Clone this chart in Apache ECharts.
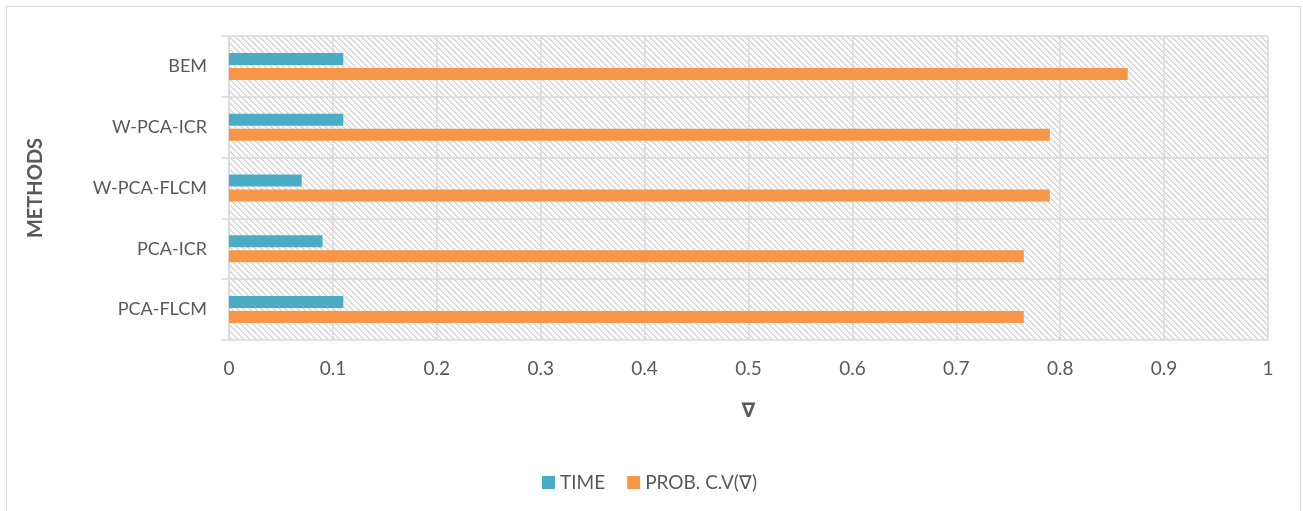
<!DOCTYPE html>
<html>
<head>
<meta charset="utf-8">
<script src="https://cdn.jsdelivr.net/npm/echarts@6/dist/echarts.min.js"></script>
<style>
  html, body { margin: 0; padding: 0; background: #fff; }
  #frame { position: absolute; left: 6px; top: 6px; width: 1295px; height: 510px; border: 1.5px solid #d9d9d9; border-bottom: none; box-sizing: border-box; }
  #chart { position: absolute; left: 0; top: 0; width: 1303px; height: 511px; }
</style>
</head>
<body>
<div id="frame"></div>
<div id="chart"></div>
<script>
// Methods, listed top to bottom
const methods = ['BEM', 'W-PCA-ICR', 'W-PCA-FLCM', 'PCA-ICR', 'PCA-FLCM'];
const timeValues = [0.11, 0.11, 0.07, 0.09, 0.11];
const probValues = [0.865, 0.79, 0.79, 0.765, 0.765];
const seriesNames = ['TIME', 'PROB. C.V(\u2207)'];
const xTicks = { min: 0, max: 1, interval: 0.1 };

// Dotted downward-diagonal hatch used as the plot background
function hatchTile() {
  const n = 6;
  const c = document.createElement('canvas');
  c.width = n; c.height = n;
  const ctx = c.getContext('2d');
  ctx.fillStyle = '#ffffff';
  ctx.fillRect(0, 0, n, n);
  for (let y = 0; y < n; y++) {
    for (let x = 0; x < n; x++) {
      const d = ((x - y) % n + n) % n;
      if (d === 0 || d === 1) {
        ctx.fillStyle = '#dadada';
        ctx.fillRect(x, y, 1, 1);
      } else if (d === 3 && y % 2 === 0) {
        ctx.fillStyle = '#e8e8e8';
        ctx.fillRect(x, y, 1, 1);
      }
    }
  }
  return c;
}

const font = 'Lato, "Open Sans", sans-serif';
const grey = '#595959';
const chart = echarts.init(document.getElementById('chart'));
chart.setOption({
  animation: false,
  textStyle: { fontFamily: font },
  grid: {
    show: true, left: 229, right: 35, top: 36, bottom: 171,
    borderWidth: 0,
    backgroundColor: { image: hatchTile(), repeat: 'repeat' }
  },
  legend: {
    left: 537, top: 468,
    itemWidth: 13, itemHeight: 13, itemGap: 22,
    icon: 'rect',
    textStyle: { fontSize: 19, color: grey, fontFamily: font },
    data: seriesNames
  },
  xAxis: {
    type: 'value', min: xTicks.min, max: xTicks.max, interval: xTicks.interval,
    name: '\u2207', nameLocation: 'middle', nameGap: 62,
    nameTextStyle: { fontSize: 20, fontWeight: 'bold', color: grey, fontFamily: 'DejaVu Sans' },
    axisLine: { show: false },
    axisTick: { show: false },
    axisLabel: { fontSize: 19, color: grey, margin: 19 },
    splitLine: { lineStyle: { color: '#d9d9d9', width: 1.5 } }
  },
  yAxis: {
    type: 'category', data: methods, inverse: true,
    name: 'METHODS', nameLocation: 'middle', nameGap: 183, nameRotate: 90,
    nameTextStyle: { fontSize: 20, fontWeight: 'bold', color: grey },
    axisLine: { show: true, lineStyle: { color: '#d9d9d9', width: 1.5 } },
    axisTick: { show: true, length: 7, lineStyle: { color: '#d9d9d9', width: 1.5 } },
    axisLabel: { fontSize: 18, color: grey, margin: 22 },
    splitLine: { show: true, lineStyle: { color: '#d9d9d9', width: 1.5 } }
  },
  series: [
    { name: seriesNames[0], type: 'bar', data: timeValues, barWidth: 12, barGap: '25%',
      itemStyle: { color: '#4BACC6' } },
    { name: seriesNames[1], type: 'bar', data: probValues, barWidth: 12, barGap: '25%',
      itemStyle: { color: '#F79646' } }
  ]
});
</script>
</body>
</html>
